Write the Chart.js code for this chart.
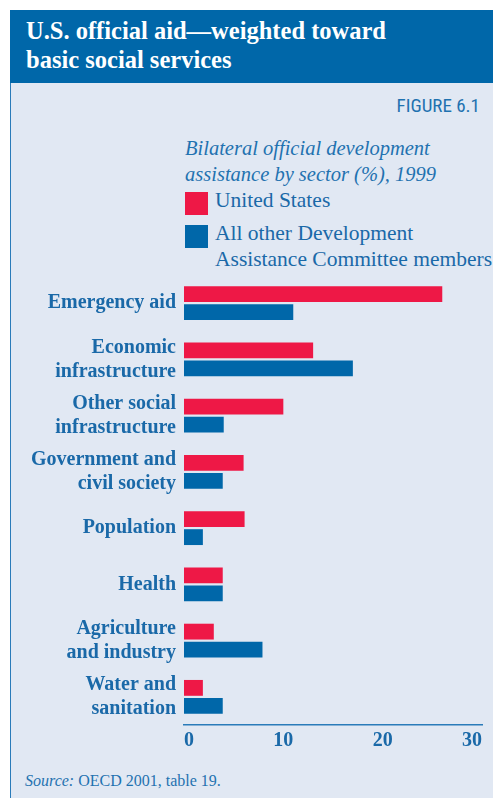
<!DOCTYPE html>
<html>
<head>
<meta charset="utf-8">
<script src="https://cdn.jsdelivr.net/npm/chart.js@4/dist/chart.umd.min.js"></script>
<style>
  html, body { margin: 0; padding: 0; }
  body { width: 493px; height: 798px; position: relative; background: #fff; overflow: hidden; font-family: "Liberation Serif", serif; }
  #band { position: absolute; left: 10px; top: 10px; width: 483px; height: 73px; background: #0067a9; }
  #title { position: absolute; left: 26px; top: 16px; color: #fff; font-weight: bold; font-size: 24.5px; line-height: 29px; }
  #panel { position: absolute; left: 10px; top: 83px; width: 482px; height: 715px; background: #e1e8f3; border-left: 1px solid #2a7bb9; }
  #figure { position: absolute; right: 13px; top: 94px; color: #1f72b0; font-family: "Liberation Sans Narrow", "Roboto Condensed", sans-serif; font-size: 19px; }
  #subtitle { position: absolute; left: 185px; top: 135px; color: #1f72b0; font-style: italic; font-size: 20.5px; line-height: 26px; }
  #legend { position: absolute; left: 185px; top: 192px; color: #1a69a8; font-size: 21.5px; line-height: 26px; }
  .item { position: relative; height: 33px; }
  .sw { position: absolute; left: 0; top: 0; width: 23px; height: 23px; }
  .lt { position: absolute; left: 30px; top: -5px; width: 232px; white-space: normal; }
  .lt span { white-space: nowrap; }
  #source { position: absolute; left: 25px; top: 772px; color: #1f72b0; font-size: 16px; }
  canvas { position: absolute; left: 0; top: 0; }
</style>
</head>
<body>
<div id="band"></div>
<div id="title">U.S. official aid—weighted toward<br>basic social services</div>
<div id="panel"></div>
<div id="figure">FIGURE 6.1</div>
<div id="subtitle">Bilateral official development<br>assistance by sector (%), 1999</div>
<div id="legend"></div>
<div id="source"><i>Source:</i> OECD 2001, table 19.</div>
<canvas id="aidChart" width="493" height="798"></canvas>
<script>
const categories = [
    ['Emergency aid'],
    ['Economic', 'infrastructure'],
    ['Other social', 'infrastructure'],
    ['Government and', 'civil society'],
    ['Population'],
    ['Health'],
    ['Agriculture', 'and industry'],
    ['Water and', 'sanitation']
];
const seriesNames = [['United States'], ['All other Development', 'Assistance Committee members']];
const usValues = [26, 13, 10, 6, 6.1, 3.9, 3, 1.9];
const otherValues = [11, 17, 4, 3.9, 1.9, 3.9, 7.9, 3.9];
const xTicks = [0, 10, 20, 30];

const red = '#ee1846';
const blue = '#0067a9';
const textBlue = '#1a69a8';
const labelFont = { family: 'Liberation Serif', size: 20, weight: 'bold' };

const datasets = [
    { label: seriesNames[0].join(' '), data: usValues, backgroundColor: red },
    { label: seriesNames[1].join(' '), data: otherValues, backgroundColor: blue }
];

// legend drawn as html from the datasets
const legend = document.getElementById('legend');
datasets.forEach(function (ds, i) {
    const item = document.createElement('div');
    item.className = 'item';
    const lines = seriesNames[i].map(function (s) { return '<span>' + s + '</span>'; }).join('<br>');
    item.innerHTML = '<div class="sw" style="background:' + ds.backgroundColor + '"></div><div class="lt">' + lines + '</div>';
    legend.appendChild(item);
});

const ctx = document.getElementById('aidChart').getContext('2d');
const aidChart = new Chart(ctx, {
    type: 'bar',
    data: { labels: categories, datasets: datasets },
    options: {
        indexAxis: 'y',
        responsive: false,
        animation: false,
        categoryPercentage: 0.64,
        barPercentage: 0.88,
        layout: { padding: { top: 275, right: 11, bottom: 33, left: 0 } },
        plugins: { legend: { display: false }, tooltip: { enabled: false } },
        scales: {
            y: {
                grid: { display: false, drawTicks: false },
                border: { display: false },
                ticks: { color: textBlue, font: labelFont, padding: 8 },
                afterFit: function (scale) { scale.width = 184; }
            },
            x: {
                min: xTicks[0],
                max: xTicks[xTicks.length - 1],
                grid: { display: false, drawTicks: false },
                border: { display: true, color: '#2a7bb9', width: 1.5 },
                ticks: { color: textBlue, font: labelFont, padding: 4, align: 'inner' },
                afterBuildTicks: function (scale) {
                    scale.ticks = xTicks.map(function (v) { return { value: v }; });
                },
                afterFit: function (scale) { scale.height = 40; }
            }
        }
    }
});
</script>
</body>
</html>
